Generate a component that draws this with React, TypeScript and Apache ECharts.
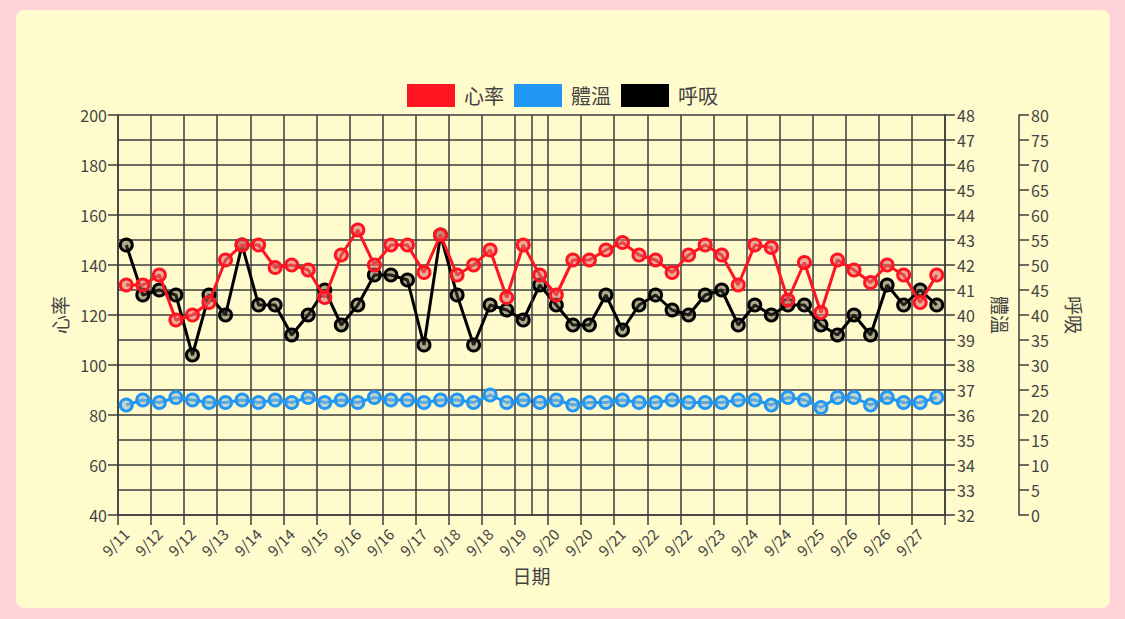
import React, { useEffect, useRef } from "react";
import * as echarts from "echarts";

// Sampling times (month-day hour:minute), every reading of the record
const times = [
  "09-11 12:00", "09-11 20:00",
  "09-12 04:00", "09-12 12:00", "09-12 20:00",
  "09-13 04:00", "09-13 12:00", "09-13 20:00",
  "09-14 04:00", "09-14 12:00", "09-14 20:00",
  "09-15 04:00", "09-15 12:00", "09-15 20:00",
  "09-16 04:00", "09-16 12:00", "09-16 20:00",
  "09-17 04:00", "09-17 12:00", "09-17 20:00",
  "09-18 04:00", "09-18 12:00", "09-18 20:00",
  "09-19 04:00", "09-19 12:00", "09-19 20:00",
  "09-20 04:00", "09-20 12:00", "09-20 20:00",
  "09-21 04:00", "09-21 12:00", "09-21 20:00",
  "09-22 04:00", "09-22 12:00", "09-22 20:00",
  "09-23 04:00", "09-23 12:00", "09-23 20:00",
  "09-24 04:00", "09-24 12:00", "09-24 20:00",
  "09-25 04:00", "09-25 12:00", "09-25 20:00",
  "09-26 04:00", "09-26 12:00", "09-26 20:00",
  "09-27 04:00", "09-27 12:00", "09-27 20:00",
];

const heartRate = [
  132, 132, 136, 118, 120, 125, 142, 148, 148, 139,
  140, 138, 127, 144, 154, 140, 148, 148, 137, 152,
  136, 140, 146, 127, 148, 136, 128, 142, 142, 146,
  149, 144, 142, 137, 144, 148, 144, 132, 148, 147,
  126, 141, 121, 142, 138, 133, 140, 136, 125, 136,
];

const temperature = [
  36.4, 36.6, 36.5, 36.7, 36.6, 36.5, 36.5, 36.6, 36.5, 36.6,
  36.5, 36.7, 36.5, 36.6, 36.5, 36.7, 36.6, 36.6, 36.5, 36.6,
  36.6, 36.5, 36.8, 36.5, 36.6, 36.5, 36.6, 36.4, 36.5, 36.5,
  36.6, 36.5, 36.5, 36.6, 36.5, 36.5, 36.5, 36.6, 36.6, 36.4,
  36.7, 36.6, 36.3, 36.7, 36.7, 36.4, 36.7, 36.5, 36.5, 36.7,
];

const respiration = [
  54, 44, 45, 44, 32, 44, 40, 54, 42, 42,
  36, 40, 45, 38, 42, 48, 48, 47, 34, 56,
  44, 34, 42, 41, 39, 46, 42, 38, 38, 44,
  37, 42, 44, 41, 40, 44, 45, 38, 42, 40,
  42, 42, 38, 36, 40, 36, 46, 42, 45, 42,
];

const axisStart = "09-11 08:00";
const axisEnd = "09-28 00:00";
const tickHours = 16;
const markerTime = "09-19 16:00";

const seriesNames = ["心率", "體溫", "呼吸"];
const seriesColors = ["#ff1421", "#2196f3", "#000000"];
const pointFills = ["rgba(215,110,105,0.55)", "rgba(150,185,200,0.55)", "rgba(70,70,55,0.45)"];

function absHours(t: string): number {
  const [md, hm] = t.split(" ");
  const [m, d] = md.split("-").map(Number);
  const [h, mi] = hm.split(":").map(Number);
  const monthDays = m === 9 ? 0 : 30;
  return (monthDays + d) * 24 + h + mi / 60;
}
const startH = absHours(axisStart);
const relHours = (t: string) => absHours(t) - startH;

const gridColor = "#3d3d3d";
const textColor = "#444";
const font = '"Noto Sans CJK TC", "Noto Sans", sans-serif';

export default function App() {
  const ref = useRef<HTMLDivElement>(null);
  useEffect(() => {
    if (!ref.current) return;
    const chart = echarts.init(ref.current, null, { renderer: "svg" });
    const maxH = relHours(axisEnd);
    const mk = (vals: number[]) => times.map((t, i) => [relHours(t), vals[i]]);
    const datasets = [heartRate, temperature, respiration];
    const yIdx = [0, 1, 2];
    const zs = [5, 4, 3];
    const series: any[] = datasets.map((vals, i) => ({
      name: seriesNames[i],
      type: "line",
      yAxisIndex: yIdx[i],
      data: mk(vals),
      z: zs[i],
      symbol: "circle",
      symbolSize: 12,
      showSymbol: true,
      lineStyle: { color: seriesColors[i], width: 3 },
      itemStyle: { color: pointFills[i], borderColor: seriesColors[i], borderWidth: 3 },
      emphasis: { disabled: true },
    }));
    series.push({
      name: "marker",
      type: "line",
      data: [],
      z: 1,
      markLine: {
        silent: true,
        symbol: ["none", "none"],
        label: { show: false },
        lineStyle: { color: gridColor, width: 1.5, type: "solid" },
        data: [{ xAxis: relHours(markerTime) }],
      },
    });
    chart.setOption({
      animation: false,
      textStyle: { fontFamily: font },
      legend: {
        top: 79,
        left: "center",
        itemWidth: 48,
        itemHeight: 23,
        itemGap: 10,
        textStyle: { fontSize: 20, color: textColor, fontFamily: font, padding: [0, 0, 0, 4] },
        data: seriesNames.map((n, i) => ({
          name: n,
          icon: "rect",
          itemStyle: { color: seriesColors[i], borderColor: seriesColors[i], borderWidth: 0 },
        })),
      },
      grid: { left: 118, right: 180, top: 115, bottom: 104, containLabel: false },
      xAxis: {
        type: "value",
        min: 0,
        max: maxH,
        interval: tickHours,
        name: "日期",
        nameLocation: "middle",
        nameGap: 51,
        nameTextStyle: { fontSize: 19, color: textColor, fontFamily: font },
        axisLine: { show: true, lineStyle: { color: gridColor, width: 1.5 } },
        axisTick: { show: true, length: 10, lineStyle: { color: gridColor, width: 1.5 } },
        splitLine: { show: true, lineStyle: { color: gridColor, width: 1.5 } },
        axisLabel: {
          rotate: 45,
          margin: 8,
          fontSize: 15,
          color: textColor,
          fontFamily: font,
          verticalAlign: "top",
          padding: [4, 0, 0, 0],
          showMinLabel: true,
          showMaxLabel: true,
          formatter: (v: number) => {
            if (v >= maxH) return "";
            const total = startH + v;
            const day = Math.floor(total / 24);
            return `9/${day}`;
          },
        },
      },
      yAxis: [
        {
          type: "value",
          position: "left",
          min: 40,
          max: 200,
          interval: 20,
          name: "心率",
          nameLocation: "middle",
          nameGap: 49,
          nameTextStyle: { fontSize: 19, color: textColor, fontFamily: font },
          axisLine: { show: true, lineStyle: { color: gridColor, width: 1.5 } },
          axisTick: { show: true, length: 10, lineStyle: { color: gridColor, width: 1.5 } },
          splitLine: { show: false },
          axisLabel: { margin: 11, fontSize: 16, color: textColor, fontFamily: font },
        },
        {
          type: "value",
          position: "right",
          min: 32,
          max: 48,
          interval: 1,
          name: "體溫",
          nameLocation: "middle",
          nameRotate: -90,
          nameGap: 46,
          nameTextStyle: { fontSize: 19, color: textColor, fontFamily: font },
          axisLine: { show: true, lineStyle: { color: gridColor, width: 1.5 } },
          axisTick: { show: true, length: 10, lineStyle: { color: gridColor, width: 1.5 } },
          splitLine: { show: true, lineStyle: { color: gridColor, width: 1.5 } },
          axisLabel: { margin: 12, fontSize: 16, color: textColor, fontFamily: font },
        },
        {
          type: "value",
          position: "right",
          offset: 74,
          min: 0,
          max: 80,
          interval: 5,
          name: "呼吸",
          nameLocation: "middle",
          nameRotate: -90,
          nameGap: 46,
          nameTextStyle: { fontSize: 19, color: textColor, fontFamily: font },
          axisLine: { show: true, lineStyle: { color: gridColor, width: 1.5 } },
          axisTick: { show: true, length: 10, lineStyle: { color: gridColor, width: 1.5 } },
          splitLine: { show: false },
          axisLabel: { margin: 12, fontSize: 16, color: textColor, fontFamily: font },
        },
      ],
      series,
    });
    return () => chart.dispose();
  }, []);

  return (
    <div style={{ position: "fixed", left: 0, top: 0, width: 1125, height: 619, background: "#ffd1d9" }}>
      <div
        style={{
          position: "absolute",
          left: 16,
          top: 10,
          width: 1094,
          height: 598,
          background: "#fffbcc",
          borderRadius: 8,
        }}
      />
      <div ref={ref} style={{ position: "absolute", left: 0, top: 0, width: 1125, height: 619 }} />
    </div>
  );
}
